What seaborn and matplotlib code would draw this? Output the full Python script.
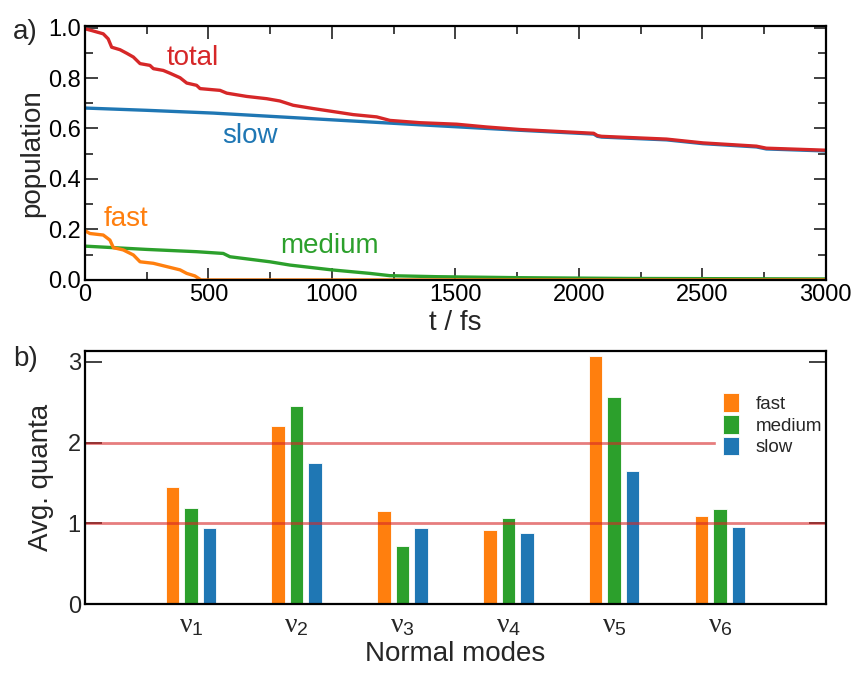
import numpy as np
import pandas as pd
import matplotlib
matplotlib.use("Agg")
import matplotlib.pyplot as plt
from matplotlib.ticker import MultipleLocator
import seaborn as sns

# ---------------- data: panel a (population vs time) ----------------
t_total = [0, 27, 74, 94, 108, 142, 169, 196, 223, 263, 277, 317, 344, 385, 412, 452, 466,
           547, 574, 655, 736, 789, 843, 924, 1019, 1086, 1181, 1235, 1356, 1505, 1626,
           1761, 2060, 2075, 2092, 2355, 2502, 2719, 2759, 3000]
p_total = [0.995, 0.988, 0.975, 0.955, 0.922, 0.912, 0.898, 0.883, 0.857, 0.850, 0.837,
           0.830, 0.819, 0.801, 0.780, 0.771, 0.758, 0.751, 0.740, 0.727, 0.718, 0.709,
           0.692, 0.679, 0.665, 0.655, 0.646, 0.632, 0.623, 0.617, 0.606, 0.596, 0.581,
           0.572, 0.569, 0.558, 0.543, 0.530, 0.522, 0.514]

t_slow = [0, 250, 520, 790, 1150, 1350, 1760, 2060, 2075, 2092, 2355, 2502, 2719, 2759, 3000]
p_slow = [0.681, 0.672, 0.661, 0.646, 0.626, 0.615, 0.593, 0.578, 0.569, 0.566, 0.555,
          0.540, 0.527, 0.519, 0.511]

t_fast = [0, 20, 74, 101, 115, 155, 196, 223, 277, 331, 385, 412, 445, 459, 470, 3000]
p_fast = [0.195, 0.184, 0.178, 0.158, 0.128, 0.119, 0.099, 0.072, 0.066, 0.053, 0.040,
          0.026, 0.016, 0.007, 0.0, 0.0]

t_medium = [0, 250, 452, 560, 587, 749, 830, 999, 1154, 1235, 1424, 1761, 2200, 3000]
p_medium = [0.134, 0.121, 0.112, 0.105, 0.092, 0.072, 0.059, 0.040, 0.026, 0.017, 0.013,
            0.009, 0.006, 0.004]

# ---------------- data: panel b (average quanta per normal mode) ----------------
modes = [r"$\nu_1$", r"$\nu_2$", r"$\nu_3$", r"$\nu_4$", r"$\nu_5$", r"$\nu_6$"]
groups = ["fast", "medium", "slow"]
q_fast = [1.45, 2.21, 1.15, 0.92, 3.07, 1.09]
q_medium = [1.19, 2.45, 0.72, 1.06, 2.56, 1.18]
q_slow = [0.94, 1.75, 0.94, 0.88, 1.65, 0.95]
ref_levels = [1, 2]

# ---------------- style ----------------
sns.set_theme(style="ticks")
plt.rcParams["font.family"] = ["Liberation Sans", "DejaVu Sans"]
plt.rcParams["mathtext.fontset"] = "custom"
plt.rcParams["mathtext.rm"] = "Liberation Sans"
plt.rcParams["mathtext.it"] = "Liberation Serif"
plt.rcParams["axes.linewidth"] = 1.6

c_fast, c_med, c_slow, c_tot = "#ff7f0e", "#2ca02c", "#1f77b4", "#d62728"

fig = plt.figure(figsize=(8.54, 6.73), dpi=100)
ax1 = fig.add_axes([0.0995, 0.584, 0.8675, 0.377])
ax2 = fig.add_axes([0.0995, 0.1025, 0.8675, 0.3755])

# ---------------- panel a ----------------
rows = []
for name, ts, ps in [("total", t_total, p_total), ("slow", t_slow, p_slow),
                     ("fast", t_fast, p_fast), ("medium", t_medium, p_medium)]:
    for t, p in zip(ts, ps):
        rows.append({"t": t, "p": p, "series": name})
dfa = pd.DataFrame(rows)
pal = {"total": c_tot, "slow": c_slow, "fast": c_fast, "medium": c_med}
for name in ["slow", "total", "medium", "fast"]:
    sub = dfa[dfa.series == name]
    sns.lineplot(data=sub, x="t", y="p", ax=ax1, color=pal[name],
                 estimator=None, sort=False, linewidth=2.4, legend=False)

ax1.set_xlim(0, 3000)
ax1.set_ylim(0, 1.005)
ax1.xaxis.set_major_locator(MultipleLocator(500))
ax1.xaxis.set_minor_locator(MultipleLocator(250))
ax1.yaxis.set_major_locator(MultipleLocator(0.2))
ax1.yaxis.set_minor_locator(MultipleLocator(0.1))
ax1.yaxis.set_major_formatter(matplotlib.ticker.FormatStrFormatter("%.1f"))
ax1.tick_params(which="both", direction="in", top=True, right=True, labelsize=17,
                width=1.3, color="#333333", labelcolor="black", pad=3)
ax1.tick_params(which="major", length=9)
ax1.tick_params(which="minor", length=6)
ax1.set_xlabel("t / fs", fontsize=20, labelpad=3)
ax1.set_ylabel("population", fontsize=20, labelpad=2)
ax1.text(437, 0.88, "total", color=c_tot, fontsize=20, ha="center", va="center")
ax1.text(670, 0.57, "slow", color=c_slow, fontsize=20, ha="center", va="center")
ax1.text(166, 0.24, "fast", color=c_fast, fontsize=20, ha="center", va="center")
ax1.text(992, 0.135, "medium", color=c_med, fontsize=20, ha="center", va="center")
for sp in ax1.spines.values():
    sp.set_color("black")
fig.text(0.015, 0.953, "a)", fontsize=20, va="center")

# ---------------- panel b ----------------
dfb = pd.DataFrame({
    "mode": modes * 3,
    "group": [g for g in groups for _ in modes],
    "quanta": q_fast + q_medium + q_slow,
})
sns.barplot(data=dfb, x="mode", y="quanta", hue="group", hue_order=groups,
            palette=[c_fast, c_med, c_slow], width=0.525, gap=0.27, ax=ax2,
            edgecolor="white", linewidth=0.6, saturation=1)
for lv in ref_levels:
    ax2.axhline(lv, color=c_tot, alpha=0.6, linewidth=2, zorder=2.2)
ax2.set_xlim(-1, 6)
ax2.set_ylim(0, 3.13)
ax2.set_yticks([0, 1, 2, 3])
ax2.tick_params(axis="y", direction="in", right=True, length=12, width=1.3, labelsize=17,
                color="#333333", pad=3)
ax2.tick_params(axis="x", length=0, labelsize=20, pad=6)
ax2.set_xlabel("Normal modes", fontsize=20, labelpad=2)
ax2.set_ylabel("Avg. quanta", fontsize=20, labelpad=10)
for sp in ax2.spines.values():
    sp.set_color("black")
    sp.set_zorder(2.6)
leg = ax2.legend(loc="upper left", bbox_to_anchor=(0.852, 0.861), fontsize=13.5,
                 frameon=True, framealpha=1, edgecolor="white", fancybox=False,
                 handlelength=0.85, handleheight=1.15, handletextpad=0.9, labelspacing=0.12,
                 borderpad=0.35, borderaxespad=0, title=None)
leg.set_zorder(2.4)
fig.text(0.015, 0.467, "b)", fontsize=20, va="center")

fig.savefig("out.png", dpi=100)
